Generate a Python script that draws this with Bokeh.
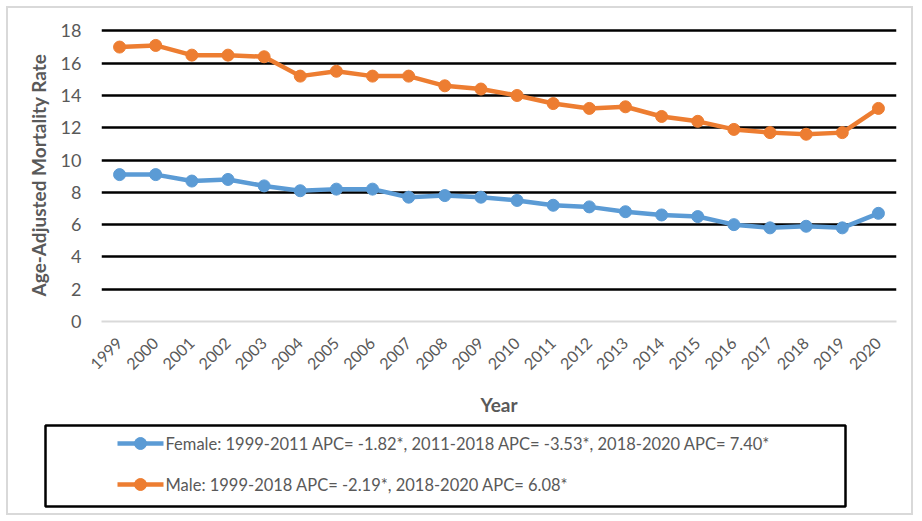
import math
from bokeh.plotting import figure
from bokeh.models import FactorRange, Range1d, FixedTicker
from bokeh.layouts import column
from bokeh.embed import file_html
from bokeh.resources import INLINE
from bokeh.core.properties import value

years = ["1999", "2000", "2001", "2002", "2003", "2004", "2005", "2006", "2007", "2008", "2009",
         "2010", "2011", "2012", "2013", "2014", "2015", "2016", "2017", "2018", "2019", "2020"]
female = [9.1, 9.1, 8.7, 8.8, 8.4, 8.1, 8.2, 8.2, 7.7, 7.8, 7.7,
          7.5, 7.2, 7.1, 6.8, 6.6, 6.5, 6.0, 5.8, 5.9, 5.8, 6.7]
male = [17.0, 17.1, 16.5, 16.5, 16.4, 15.2, 15.5, 15.2, 15.2, 14.6, 14.4,
        14.0, 13.5, 13.2, 13.3, 12.7, 12.4, 11.9, 11.7, 11.6, 11.7, 13.2]
y_ticks = [0, 2, 4, 6, 8, 10, 12, 14, 16, 18]
grid_ticks = [2, 4, 6, 8, 10, 12, 14, 16, 18]
series_labels = ["Female: 1999-2011 APC= -1.82*, 2011-2018 APC= -3.53*, 2018-2020 APC= 7.40*",
                 "Male: 1999-2018 APC= -2.19*, 2018-2020 APC= 6.08*"]
x_title = "Year"
y_title = "Age-Adjusted Mortality Rate"

BLUE = "#5B9BD5"
ORANGE = "#ED7D31"
GRAY = "#595959"
FONT = "Lato"

p = figure(width=903, height=410, x_range=FactorRange(factors=years),
           y_range=Range1d(0, 18.15), output_backend="svg", toolbar_location=None,
           min_border_left=93, min_border_right=15, min_border_top=20, min_border_bottom=96)
p.outline_line_color = None
p.background_fill_color = "white"
p.frame_align = False

for vals, col in ((male, ORANGE), (female, BLUE)):
    p.line(years, vals, line_color=col, line_width=4.5)
    p.scatter(years, vals, size=12, fill_color=col, line_color=col)

p.xgrid.grid_line_color = None
p.ygrid.ticker = FixedTicker(ticks=grid_ticks)
p.ygrid.grid_line_color = "black"
p.ygrid.grid_line_width = 2.5

p.yaxis.ticker = FixedTicker(ticks=y_ticks)
p.yaxis.axis_line_color = None
p.yaxis.major_tick_line_color = None
p.yaxis.minor_tick_line_color = None
p.yaxis.major_label_standoff = 14
p.yaxis.axis_label = y_title
p.yaxis.axis_label_standoff = 8

p.xaxis.axis_line_color = "#d9d9d9"
p.xaxis.axis_line_width = 2
p.xaxis.major_tick_line_color = None
p.xaxis.minor_tick_line_color = None
p.xaxis.major_label_orientation = math.pi / 4
p.xaxis.major_label_standoff = 13
p.xaxis.axis_label = x_title
p.xaxis.axis_label_standoff = 15

for ax in (p.xaxis, p.yaxis):
    ax.major_label_text_font = FONT
    ax.major_label_text_color = GRAY
    ax.axis_label_text_font = FONT
    ax.axis_label_text_font_style = "bold"
    ax.axis_label_text_color = GRAY
    ax.axis_label_text_font_size = "19px"
p.yaxis.major_label_text_font_size = "18px"
p.xaxis.major_label_text_font_size = "16px"

# legend panel
leg = figure(width=903, height=95, x_range=Range1d(0, 903), y_range=Range1d(95, 0),
             output_backend="svg", toolbar_location=None, min_border=0,
             x_axis_type=None, y_axis_type=None)
leg.frame_align = False
leg.grid.visible = False
leg.outline_line_color = None
leg.quad(left=37, right=837, top=7, bottom=88, fill_color=None,
         line_color="black", line_width=2.5)
rows = [25, 66]
for lab, col, ry in zip(series_labels, (BLUE, ORANGE), rows):
    leg.segment(x0=109, y0=ry, x1=155, y1=ry, line_color=col, line_width=4.5)
    leg.scatter(x=[132], y=[ry], size=12, fill_color=col, line_color=col)
    leg.text(x=[157], y=[ry], text=[lab], text_baseline="middle", text_align="left",
             text_font=value(FONT), text_font_size="16.5px", text_color=GRAY)

layout = column(p, leg, spacing=0)
layout.styles = {"border": "2px solid #d9d9d9", "margin": "6px 0 0 6px"}

open("out.html", "w").write(file_html(layout, INLINE))
